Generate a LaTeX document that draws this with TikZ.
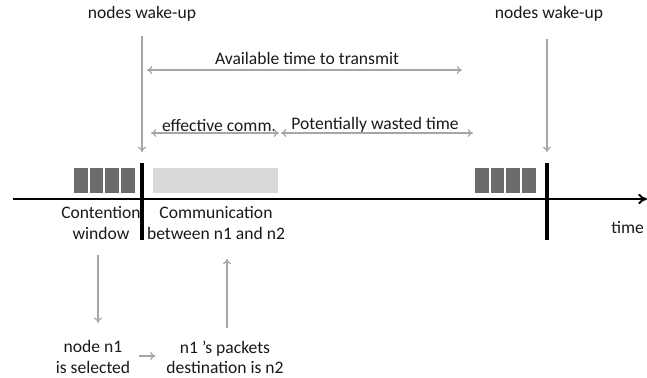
\documentclass[tikz,border=0pt]{standalone}
\usepackage{fontspec}
\setmainfont{Carlito}
\usetikzlibrary{positioning,arrows.meta}

\tikzset{
  lbl/.style={font=\fontsize{10}{11.5}\selectfont, text=black!90, align=center, inner sep=1pt},
  garrow/.style={draw=black!35, line width=0.7pt, -{To[length=3pt,width=4.5pt]}},
  gboth/.style={draw=black!35, line width=0.7pt, {To[length=3pt,width=4.5pt]}-{To[length=3pt,width=4.5pt]}},
  slot/.style={fill=black!58},
  fillbox/.style={fill=black!15},
  bar/.style={line width=1.9pt},
}

\begin{document}
\begin{tikzpicture}[x=0.02cm, y=-0.02cm]
  \useasboundingbox (0,0) rectangle (647,378);

  % time axis and wake-up bars
  \coordinate (t0) at (13,199);
  \coordinate (t1) at (647,199);
  \draw[line width=1.1pt, -{To[length=5pt,width=6pt]}] (t0) -- (t1);
  \draw[bar] (142,163) -- (142,240);
  \draw[bar] (547,163) -- (547,240);

  % contention slots and communication block
  \foreach \i in {0,...,3}
    \fill[slot] (74+\i*15.6,168) rectangle +(13.8,25);
  \foreach \i in {0,...,3}
    \fill[slot] (475+\i*15.6,168) rectangle +(13.8,25);
  \fill[fillbox] (153,168) rectangle (278,193);

  % labels
  \node[lbl] (wakeL) at (142,14) {nodes wake-up};
  \node[lbl] (wakeR) at (549,14) {nodes wake-up};
  \node[lbl] (avail) at (307,58) {Available time to transmit};
  \node[lbl] (eff) at (219,125) {effective comm.};
  \node[lbl] (waste) at (375,125) {Potentially wasted time};
  \node[lbl] (cw) at (101,223) {Contention\\window};
  \node[lbl] (comm) at (216,223) {Communication\\between n1 and n2};
  \node[lbl, anchor=east] (time) at (646,227) {time};
  \node[lbl] (sel) at (93,357) {node n1\\is selected};
  \node[lbl] (dest) at (225,357) {n1 's packets\\destination is n2};

  % arrows
  \coordinate (wL) at (142,152);
  \coordinate (wR) at (547,152);
  \coordinate (avL) at (147,70);
  \coordinate (avR) at (462,70);
  \coordinate (effL) at (151,133);
  \coordinate (effR) at (279,133);
  \coordinate (wsL) at (281,133);
  \coordinate (wsR) at (473,133);
  \coordinate (xd) at (98,0);
  \coordinate (xu) at (227,0);
  \coordinate (yh) at (0,356);
  \draw[garrow, shorten <=7pt] (wakeL.south) -- (wL);
  \draw[garrow, shorten <=9pt] (wakeR.south -| wR) -- (wR);
  \draw[gboth] (avL) -- (avR);
  \draw[gboth] (effL) -- (effR);
  \draw[gboth] (wsL) -- (wsR);
  \draw[garrow, shorten <=8pt, shorten >=9pt] (cw.south -| xd) -- (sel.north -| xd);
  \draw[garrow, shorten <=6pt, shorten >=10pt] (dest.north -| xu) -- (comm.south -| xu);
  \draw[garrow, shorten <=4pt, shorten >=5pt] (sel.east |- yh) -- (dest.west |- yh);
\end{tikzpicture}
\end{document}
